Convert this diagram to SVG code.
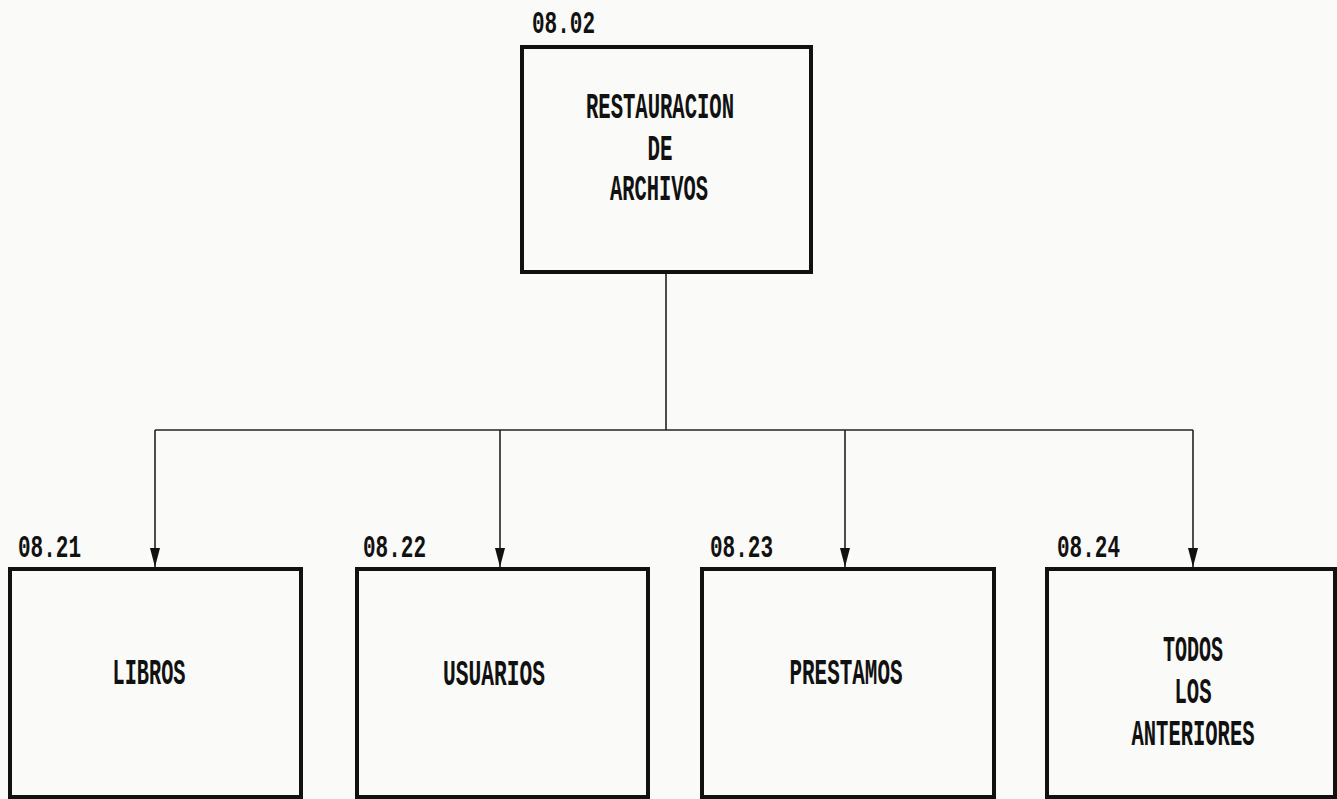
<svg xmlns="http://www.w3.org/2000/svg" width="1337" height="799" viewBox="0 0 1337 799">
<style>
.box{fill:none;stroke:#111;stroke-width:4}
.conn{fill:none;stroke:#222;stroke-width:1.6}
.t{font-family:"Liberation Mono",monospace;font-weight:bold;font-size:36px;fill:#111;text-anchor:middle}
.lbl{font-family:"Liberation Mono",monospace;font-weight:bold;font-size:32px;fill:#111}
</style>
<defs>
<marker id="arr" markerUnits="userSpaceOnUse" markerWidth="20" markerHeight="12" refX="19" refY="6" orient="auto" viewBox="0 0 20 12">
<path d="M0,1 L19,6 L0,11 Z" fill="#111"/>
</marker>
</defs>
<rect width="1337" height="799" fill="#fafaf8"/>
<g id="connectors">
<line class="conn" x1="666" y1="272" x2="666" y2="430"/>
<line class="conn" x1="155" y1="430" x2="1193" y2="430"/>
<path class="conn" d="M155,430 V567" marker-end="url(#arr)"/>
<path class="conn" d="M500,430 V567" marker-end="url(#arr)"/>
<path class="conn" d="M845,430 V567" marker-end="url(#arr)"/>
<path class="conn" d="M1193,430 V567" marker-end="url(#arr)"/>
</g>
<g id="n0802">
<text class="lbl" x="532" y="33" textLength="63" lengthAdjust="spacingAndGlyphs">08.02</text>
<rect class="box" x="522" y="47" width="289" height="225"/>
<text class="t" x="660" y="118" textLength="148" lengthAdjust="spacingAndGlyphs">RESTAURACION</text>
<text class="t" x="660" y="160" textLength="25" lengthAdjust="spacingAndGlyphs">DE</text>
<text class="t" x="659" y="200" textLength="98" lengthAdjust="spacingAndGlyphs">ARCHIVOS</text>
</g>
<g id="n0821">
<text class="lbl" x="18" y="557" textLength="63" lengthAdjust="spacingAndGlyphs">08.21</text>
<rect class="box" x="10" y="569" width="291" height="228"/>
<text class="t" x="149" y="684" textLength="73" lengthAdjust="spacingAndGlyphs">LIBROS</text>
</g>
<g id="n0822">
<text class="lbl" x="363" y="557" textLength="63" lengthAdjust="spacingAndGlyphs">08.22</text>
<rect class="box" x="357" y="569" width="291" height="228"/>
<text class="t" x="494" y="685" textLength="102" lengthAdjust="spacingAndGlyphs">USUARIOS</text>
</g>
<g id="n0823">
<text class="lbl" x="710" y="557" textLength="63" lengthAdjust="spacingAndGlyphs">08.23</text>
<rect class="box" x="702" y="569" width="292" height="228"/>
<text class="t" x="846" y="684" textLength="113" lengthAdjust="spacingAndGlyphs">PRESTAMOS</text>
</g>
<g id="n0824">
<text class="lbl" x="1057" y="557" textLength="63" lengthAdjust="spacingAndGlyphs">08.24</text>
<rect class="box" x="1047" y="569" width="288" height="228"/>
<text class="t" x="1193" y="661" textLength="60" lengthAdjust="spacingAndGlyphs">TODOS</text>
<text class="t" x="1193" y="703" textLength="37" lengthAdjust="spacingAndGlyphs">LOS</text>
<text class="t" x="1193" y="745" textLength="123" lengthAdjust="spacingAndGlyphs">ANTERIORES</text>
</g>
</svg>
